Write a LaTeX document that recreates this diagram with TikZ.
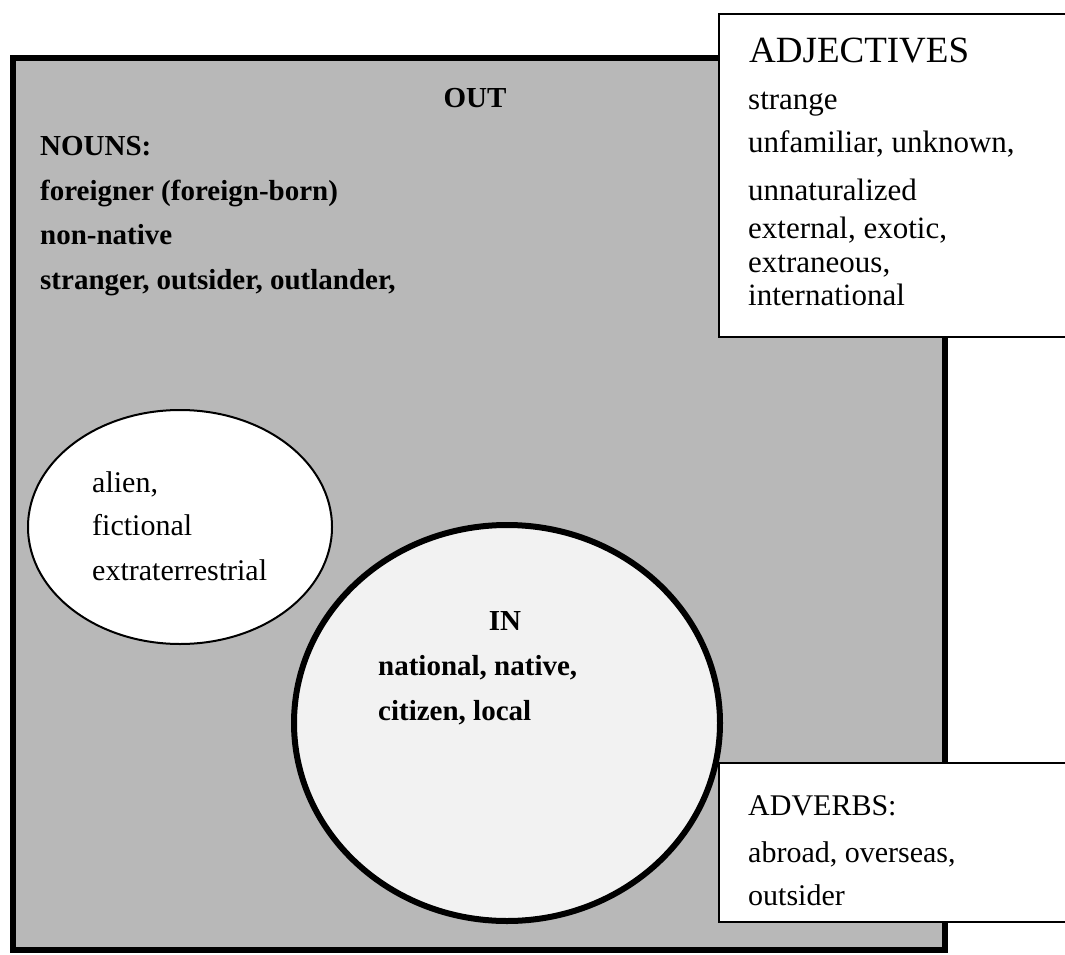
\documentclass[tikz,border=0pt]{standalone}
\usepackage{fontspec}
\setmainfont{Liberation Serif}
\usetikzlibrary{positioning}

\begin{document}
\begin{tikzpicture}[x=1pt, y=-1pt,
  wordline/.style={anchor=base west, inner sep=0pt, font=\fontsize{30}{36}\selectfont},
  boldline/.style={anchor=base west, inner sep=0pt, font=\fontsize{29}{36}\selectfont\bfseries},
  adjline/.style={anchor=base west, inner sep=0pt, font=\fontsize{31}{36}\selectfont},
  headline/.style={anchor=base west, inner sep=0pt, font=\fontsize{37}{40}\selectfont}]
  \useasboundingbox (0,0) rectangle (1065,955);
  % OUT region
  \draw[line width=6, fill=black!28] (13,58) rectangle (945,950);
  \node[boldline, anchor=base] (outlabel) at (475,108) {OUT};
  \node[boldline] (nounhead) at (40,155) {NOUNS:};
  \foreach \txt/\yy [count=\i] in {{foreigner (foreign-born)}/200, non-native/244, {stranger, outsider, outlander,}/289}
    \node[boldline] (noun\i) at (40,\yy) {\txt};
  % alien ellipse
  \draw[line width=2, fill=white] (180,527) ellipse [x radius=152, y radius=117];
  \foreach \txt/\yy [count=\i] in {{alien,}/492, fictional/535, extraterrestrial/580}
    \node[wordline] (alien\i) at (92,\yy) {\txt};
  % IN circle
  \draw[line width=6, fill=black!5] (507,723) ellipse [x radius=213, y radius=198];
  \node[boldline, anchor=base] (inlabel) at (505,630) {IN};
  \node[boldline] (in1) at (378,675) {national, native,};
  \node[boldline] (in2) at (378,720) {citizen, local};
  % adjectives box
  \draw[line width=2, fill=white] (719,14) rectangle (1070,337);
  \node[headline] (adjhead) at (749,63) {ADJECTIVES};
  \foreach \txt/\yy [count=\i] in {strange/110, {unfamiliar, unknown,}/152, unnaturalized/200, {external, exotic,}/238, {extraneous,}/272, international/305}
    \node[adjline] (adj\i) at (748,\yy) {\txt};
  % adverbs box
  \draw[line width=2, fill=white] (719,763) rectangle (1070,922);
  \node[wordline] (advhead) at (748,815) {ADVERBS:};
  \node[wordline] (adv1) at (748,862) {abroad, overseas,};
  \node[wordline] (adv2) at (748,905) {outsider};
\end{tikzpicture}
\end{document}
